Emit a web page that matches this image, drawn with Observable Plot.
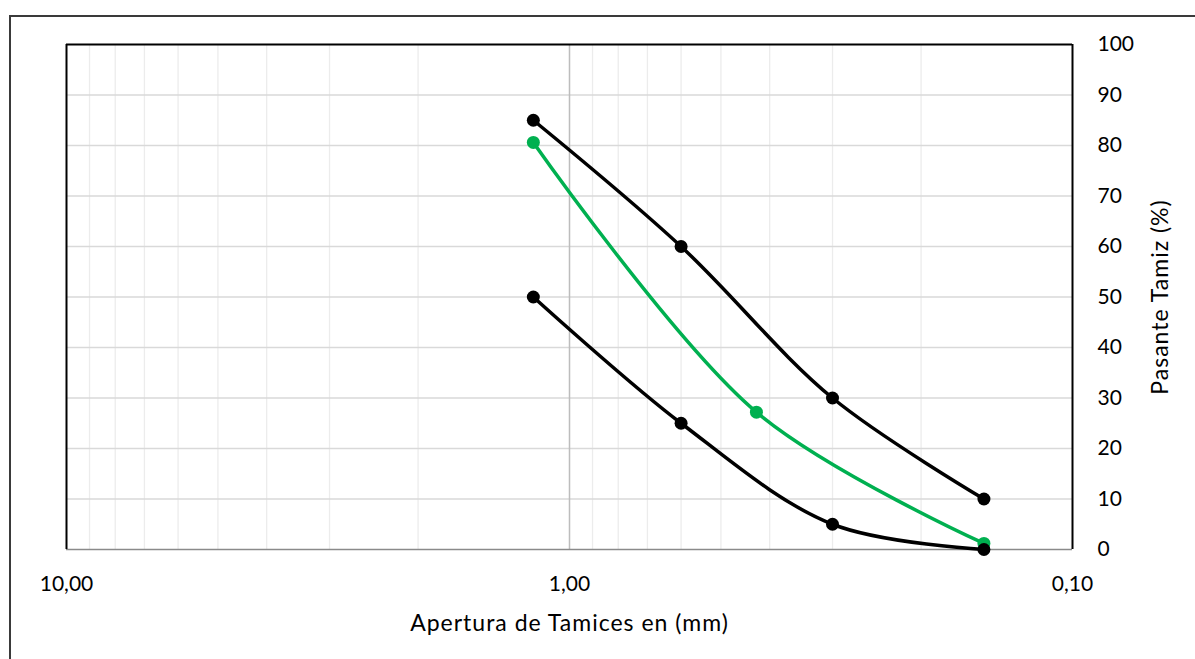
<!DOCTYPE html>
<html>
<head>
<meta charset="utf-8">
<script src="https://cdn.jsdelivr.net/npm/d3@7"></script>
<script src="https://cdn.jsdelivr.net/npm/@observablehq/plot@0.6"></script>
<style>
  html, body { margin: 0; padding: 0; background: #fff; overflow: hidden; }
  #wrap { position: relative; width: 1195px; height: 659px; }
  #frame { position: absolute; left: 9px; top: 15px; width: 1300px; height: 800px; border: 2px solid #3a3a3a; box-sizing: border-box; }
  #chart { position: absolute; left: 0; top: 0; }
  #chart g[aria-label="text"] text { letter-spacing: 1px; }
</style>
</head>
<body>
<div id="wrap"><div id="frame"></div><div id="chart"></div></div>
<script>
// Sieve openings (mm) and percent passing
const sizes = [1.18, 0.6, 0.3, 0.15];
const upperLimit = [85, 60, 30, 10];
const lowerLimit = [50, 25, 5, 0];
const sampleSizes = [1.18, 0.425, 0.15];
const samplePassing = [80.6, 27.2, 1.2];

const xTicks = [10, 1, 0.1];
const xMinorTicks = [9, 8, 7, 6, 5, 4, 3, 2, 0.9, 0.8, 0.7, 0.6, 0.5, 0.4, 0.3, 0.2];
const yTicks = [0, 10, 20, 30, 40, 50, 60, 70, 80, 90, 100];
const yGrid = [10, 20, 30, 40, 50, 60, 70, 80, 90];
const xTitle = "Apertura de Tamices en (mm)";
const yTitle = "Pasante Tamiz (%)";

const upper = sizes.map((s, i) => ({x: s, y: upperLimit[i]}));
const lower = sizes.map((s, i) => ({x: s, y: lowerLimit[i]}));
const sample = sampleSizes.map((s, i) => ({x: s, y: samplePassing[i]}));

const fmt = d => d3.format(".2f")(d).replace(".", ",");
const font = "Lato, 'Open Sans', sans-serif";

const chart = Plot.plot({
  width: 1195,
  height: 659,
  marginLeft: 66,
  marginRight: 123,
  marginTop: 44,
  marginBottom: 110,
  style: {fontFamily: font, fontSize: "21px", color: "#000", background: "transparent"},
  x: {type: "log", domain: [10, 0.1]},
  y: {domain: [0, 100]},
  marks: [
    Plot.ruleX(xMinorTicks, {stroke: "#ececec", strokeWidth: 1.3}),
    Plot.ruleY(yGrid, {stroke: "#d9d9d9", strokeWidth: 1.3}),
    Plot.ruleX([1], {stroke: "#bdbdbd", strokeWidth: 1.5}),
    Plot.ruleY([0], {stroke: "#8a8a8a", strokeWidth: 1.5}),
    Plot.ruleY([100], {stroke: "#000", strokeWidth: 2}),
    Plot.ruleX([10, 0.1], {stroke: "#000", strokeWidth: 2}),
    Plot.axisX({
      ticks: xTicks, tickFormat: fmt, tickSize: 0, tickPadding: 27,
      fontSize: 21, label: null
    }),
    Plot.axisY({
      anchor: "right", ticks: yTicks, tickSize: 0, tickPadding: 25, textAnchor: "start",
      fontSize: 21, label: null
    }),
    Plot.text([xTitle], {frameAnchor: "bottom", dy: 81, fontSize: 23, fill: "#000"}),
    Plot.text([yTitle], {frameAnchor: "right", dx: 88, dy: 0, rotate: -90, textAnchor: "middle", fontSize: 23, fill: "#000"}),
    Plot.line(upper, {x: "x", y: "y", stroke: "#000", strokeWidth: 3.5, curve: "catmull-rom"}),
    Plot.line(lower, {x: "x", y: "y", stroke: "#000", strokeWidth: 3.5, curve: "catmull-rom"}),
    Plot.line(sample, {x: "x", y: "y", stroke: "#00b050", strokeWidth: 3.5, curve: "catmull-rom"}),
    Plot.dot(upper, {x: "x", y: "y", r: 6.5, fill: "#000"}),
    Plot.dot(sample, {x: "x", y: "y", r: 6.5, fill: "#00b050"}),
    Plot.dot(lower, {x: "x", y: "y", r: 6.5, fill: "#000"})
  ]
});
document.getElementById("chart").appendChild(chart);
</script>
</body>
</html>
